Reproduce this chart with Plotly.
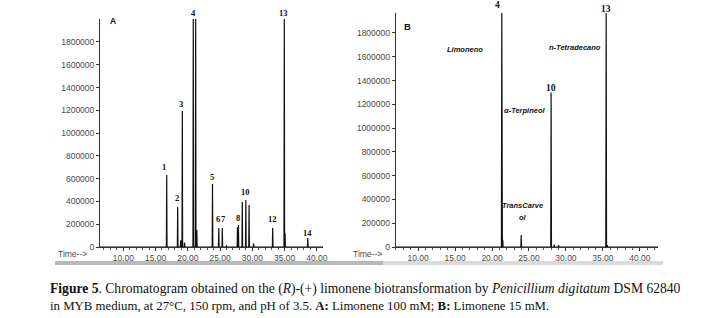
import plotly.graph_objects as go

W, H = 719, 318

# ---------------- Data ----------------
# Panel A (Limonene 100 mM): retention time (min) and abundance of peaks
a_times = [16.73, 18.43, 18.90, 19.15, 19.50, 20.85, 21.22, 21.40, 23.83, 24.80,
           25.35, 26.00, 27.70, 27.85, 28.45, 29.00, 29.50, 30.20, 33.16, 34.96,
           35.08, 38.60]
a_heights = [632000, 351000, 60000, 1194000, 40000, 2050000, 2050000, 150000, 553000, 167000,
             167000, 15000, 175000, 193000, 395000, 413000, 369000, 30000, 167000, 2050000,
             120000, 79000]
a_label_text = ["1", "2", "3", "4", "5", "6", "7", "8", "10", "12", "13", "14"]
a_label_time = [16.30, 18.33, 18.95, 20.96, 23.75, 24.68, 25.46, 27.78, 28.87, 33.20, 34.91, 38.60]
a_label_level = [702000, 430000, 1255000, 2054000, 615000, 246000, 246000, 255000, 483000,
                 246000, 2054000, 123000]

# Panel B (Limonene 15 mM)
b_times = [21.32, 21.45, 23.95, 27.99, 28.40, 29.00, 35.44, 35.60]
b_heights = [1990000, 60000, 100000, 1300000, 20000, 15000, 1990000, 15000]
b_label_text = ["4", "10", "13"]
b_label_time = [20.68, 27.99, 35.44]
b_label_level = [2035000, 1337000, 2002000]
b_compound_text = ["Limoneno", "α-Terpineol", "n-Tetradecano", "TransCarve", "ol"]
b_compound_time = [16.35, 24.47, 31.24, 24.07, 24.20]
b_compound_level = [1665000, 1152000, 1674000, 353000, 244000]

x_ticks = [10, 15, 20, 25, 30, 35, 40]
y_ticks = [0, 200000, 400000, 600000, 800000, 1000000, 1200000, 1400000, 1600000, 1800000]

caption_1 = ("<b>Figure 5</b>. Chromatogram obtained on the (<i>R</i>)-(+) limonene "
             "biotransformation by <i>Penicillium digitatum</i> DSM 62840")
caption_2 = ("in MYB medium, at 27°C, 150 rpm, and pH of 3.5. <b>A:</b> Limonene 100 mM; "
             "<b>B:</b> Limonene 15 mM.")

# ---------------- Geometry ----------------
A_XRANGE = [6.39, 40.96]
B_XRANGE = [6.97, 42.45]
A_YMAX = 2001800
B_YMAX = 1968000
HW = 0.05  # half width of a spike (min)


def trace_points(times, heights, xr):
    pts = sorted(zip(times, heights))
    xs, ys = [xr[0]], [0]
    for t, h in pts:
        xs += [t - HW, t, t + HW]
        ys += [0, h, 0]
    xs.append(xr[1])
    ys.append(0)
    return xs, ys


def px(x):
    return x / W


def py(y):
    return 1 - y / H


fig = go.Figure()
xa, ya = trace_points(a_times, a_heights, A_XRANGE)
fig.add_trace(go.Scatter(x=xa, y=ya, mode="lines", line=dict(color="#111111", width=1.2),
                         xaxis="x", yaxis="y", hoverinfo="skip", showlegend=False))
xb, yb = trace_points(b_times, b_heights, B_XRANGE)
fig.add_trace(go.Scatter(x=xb, y=yb, mode="lines", line=dict(color="#111111", width=1.2),
                         xaxis="x2", yaxis="y2", hoverinfo="skip", showlegend=False))

tickfont = dict(family="Liberation Sans, Arial, sans-serif", size=8.5, color="#4a4a4a")
common_x = dict(showline=True, linecolor="#333333", linewidth=1, ticks="outside", ticklen=3,
                tickcolor="#333333", tickvals=x_ticks, tickformat=".2f", showgrid=False,
                zeroline=False, tickfont=tickfont, automargin=False,
                minor=dict(dtick=1, tick0=0, ticks="outside", ticklen=2, tickcolor="#555555"))
common_y = dict(showline=True, linecolor="#333333", linewidth=1, ticks="outside", ticklen=3,
                tickcolor="#333333", tickvals=y_ticks, tickformat="d", showgrid=False,
                zeroline=False, tickfont=tickfont, ticklabelstandoff=0, automargin=False)

fig.update_layout(
    width=W, height=H, margin=dict(l=0, r=0, t=0, b=0, pad=0),
    paper_bgcolor="white", plot_bgcolor="white",
    xaxis=dict(domain=[px(100), px(323)], range=A_XRANGE, anchor="y", **common_x),
    yaxis=dict(domain=[py(247), py(19)], range=[0, A_YMAX], anchor="x", **common_y),
    xaxis2=dict(domain=[px(395.7), px(658)], range=B_XRANGE, anchor="y2", **common_x),
    yaxis2=dict(domain=[py(247), py(13)], range=[0, B_YMAX], anchor="x2", **common_y),
)

ann = []
numfont = dict(family="Liberation Serif, serif", size=8.5, color="#111111", weight="bold")


def label(xref, yref, t, lv, s, font, ymax):
    # keep labels above the axis top visible by anchoring at the top and shifting
    if lv > ymax:
        shift = (lv - ymax) / ymax * (247 - (19 if yref == "y" else 13))
        return dict(x=t, y=ymax, xref=xref, yref=yref, text=s, showarrow=False, font=font,
                    xanchor="center", yanchor="middle", yshift=shift)
    return dict(x=t, y=lv, xref=xref, yref=yref, text=s, showarrow=False, font=font,
                xanchor="center", yanchor="middle")


for t, lv, s in zip(a_label_time, a_label_level, a_label_text):
    ann.append(label("x", "y", t, lv, s, numfont, A_YMAX))
numfont_b = dict(family="Liberation Serif, serif", size=9.5, color="#111111", weight="bold")
for t, lv, s in zip(b_label_time, b_label_level, b_label_text):
    ann.append(label("x2", "y2", t, lv, s, numfont_b, B_YMAX))
cfont = dict(family="Liberation Sans, Arial, sans-serif", size=7.5, color="#111111",
             style="italic", weight="bold")
for t, lv, s in zip(b_compound_time, b_compound_level, b_compound_text):
    ann.append(label("x2", "y2", t, lv, s, cfont, B_YMAX))

panel_font = dict(family="Liberation Sans, Arial, sans-serif", size=8.5, color="#111111", weight="bold")
ann.append(dict(x=px(113), y=py(21), xref="paper", yref="paper", text="A", showarrow=False,
                font=panel_font, xanchor="center", yanchor="middle"))
ann.append(dict(x=px(407), y=py(27), xref="paper", yref="paper", text="B", showarrow=False,
                font=dict(panel_font, size=9.5), xanchor="center", yanchor="middle"))
for cx in (72, 367):
    ann.append(dict(x=px(cx), y=py(254), xref="paper", yref="paper", text="Time-->",
                    showarrow=False, font=tickfont, xanchor="center", yanchor="middle"))

capfont1 = dict(family="Liberation Serif, Times New Roman, serif", size=13.6, color="#111111")
capfont2 = dict(family="Liberation Serif, Times New Roman, serif", size=12.8, color="#111111")
ann.append(dict(x=px(48), y=py(289), xref="paper", yref="paper", text=caption_1,
                showarrow=False, font=capfont1, xanchor="left", yanchor="middle", align="left"))
ann.append(dict(x=px(48), y=py(306), xref="paper", yref="paper", text=caption_2,
                showarrow=False, font=capfont2, xanchor="left", yanchor="middle", align="left"))

fig.update_layout(annotations=ann)

fig.update_layout(shapes=[
    dict(type="rect", xref="paper", yref="paper", x0=px(55), x1=px(383), y0=py(265), y1=py(261),
         fillcolor="#b9b9b9", line=dict(width=0), layer="below"),
    dict(type="rect", xref="paper", yref="paper", x0=px(383), x1=px(663), y0=py(265), y1=py(261),
         fillcolor="#dadada", line=dict(width=0), layer="below"),
])

fig.write_html("out.html", config={"displayModeBar": False},
               post_script="document.body.style.margin='0';document.body.style.overflow='hidden';")
